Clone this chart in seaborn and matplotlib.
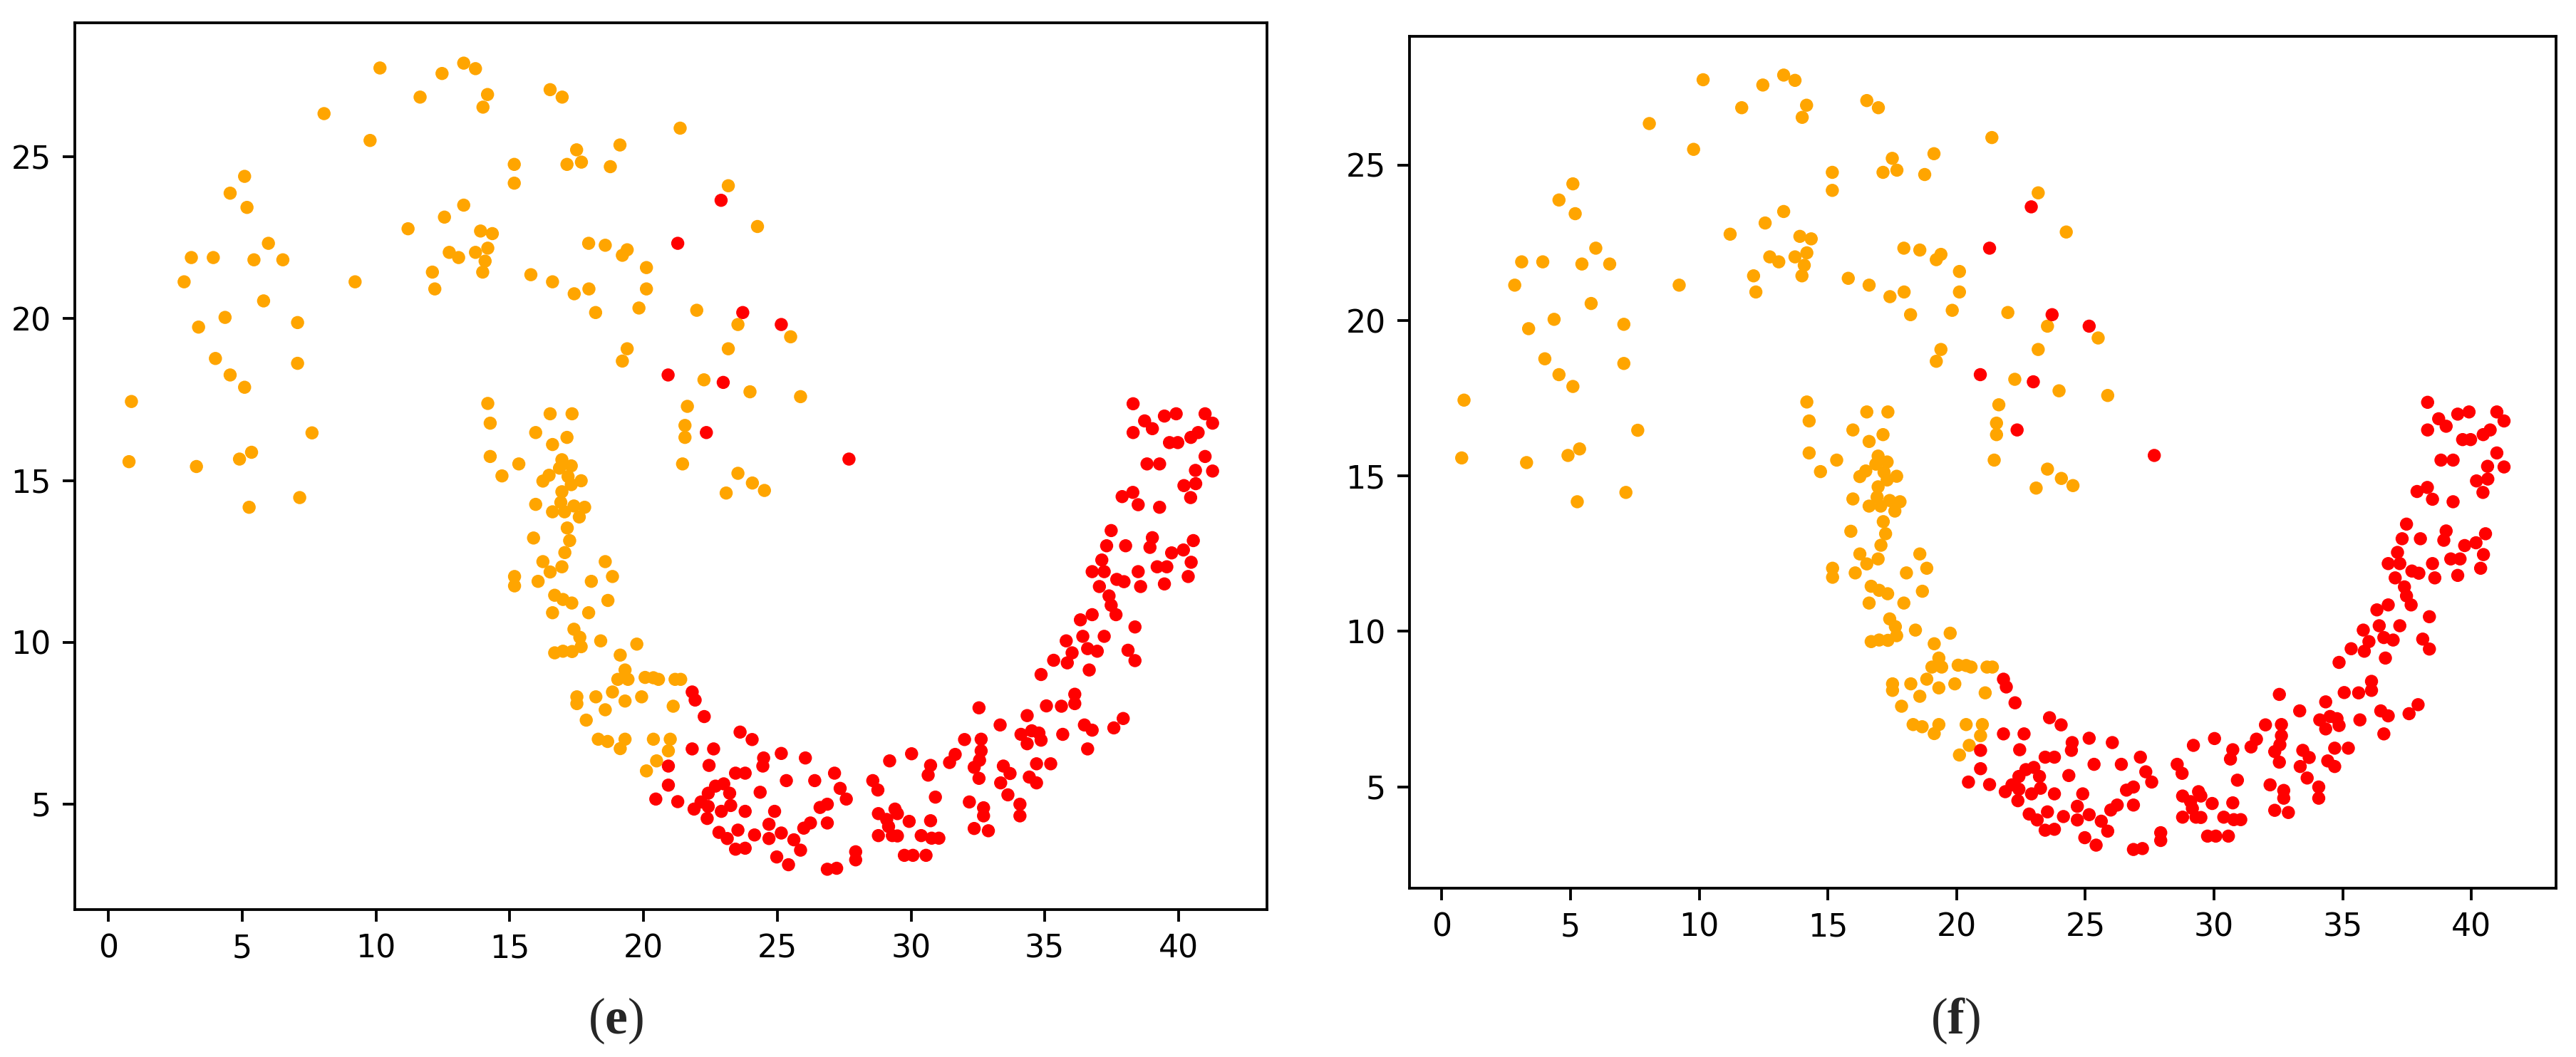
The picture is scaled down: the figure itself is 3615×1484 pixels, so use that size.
import matplotlib
matplotlib.use("Agg")
import matplotlib.pyplot as plt
import seaborn as sns
import pandas as pd

# points (same cloud in both panels)
orange_x = [
    10.15, 12.47, 13.28, 11.65, 8.06, 9.78, 5.09, 4.55, 5.18, 5.98, 3.10, 3.92, 5.44, 6.52,
    2.83, 5.80, 4.36, 3.37, 7.07, 4.00, 7.07, 4.55, 5.09, 0.86, 7.61, 0.77, 3.29, 4.90,
    5.35, 7.15, 5.26, 11.20, 12.56, 13.28, 12.74, 13.09, 12.11, 12.20, 9.22,
    13.72, 14.17, 14.00, 16.51, 16.96, 21.37, 19.12, 17.50, 17.68, 17.14, 18.76, 15.17,
    15.17, 23.17, 24.26, 13.91, 14.35, 13.72, 14.18, 14.08, 13.99, 17.95, 18.57, 19.39,
    19.21, 20.11, 15.79, 16.60, 17.41, 17.96, 20.11, 18.21, 19.83, 21.99, 23.53, 25.50,
    23.17, 19.39, 19.21, 22.26, 23.98, 25.87, 21.64, 21.55, 21.55, 21.46, 23.53, 24.07,
    24.52, 23.09, 14.18, 14.27, 14.27, 15.34, 14.71, 16.51, 17.33, 15.97, 17.14, 16.60,
    16.95, 17.30, 16.86, 16.47, 16.24, 17.18, 17.67, 17.30, 16.95, 15.97, 16.91, 16.60,
    17.05, 17.40, 17.80, 17.60, 17.15, 17.24, 15.89, 17.06, 16.24, 16.51, 16.95, 18.57,
    18.84, 15.18, 15.18, 16.06, 18.05, 16.68, 16.99, 17.32, 16.60, 17.95, 18.67, 17.40,
    17.62, 17.67, 16.68, 16.99, 17.33, 18.40, 19.75, 19.13, 19.31, 19.04, 19.42, 20.06,
    20.37, 20.56, 21.18, 21.39, 18.84, 17.51, 17.51, 18.22, 19.31, 19.93, 21.11, 18.57,
    17.86, 18.31, 18.66, 19.31, 19.13, 20.37, 21.00, 20.93, 20.49, 20.11,
]
orange_y = [
    27.75, 27.58, 27.90, 26.85, 26.34, 25.51, 24.40, 23.88, 23.44, 22.33, 21.89, 21.89, 21.82, 21.82,
    21.14, 20.55, 20.04, 19.74, 19.88, 18.77, 18.62, 18.26, 17.88, 17.44, 16.47, 15.58, 15.43, 15.66,
    15.87, 14.47, 14.17, 22.78, 23.14, 23.51, 22.05, 21.89, 21.44, 20.92, 21.14,
    27.73, 26.93, 26.54, 27.08, 26.85, 25.89, 25.37, 25.22, 24.84, 24.77, 24.70, 24.77,
    24.19, 24.11, 22.85, 22.71, 22.63, 22.05, 22.18, 21.78, 21.44, 22.33, 22.27, 22.13,
    21.96, 21.58, 21.36, 21.14, 20.77, 20.92, 20.92, 20.19, 20.33, 20.26, 19.82, 19.44,
    19.07, 19.07, 18.69, 18.11, 17.74, 17.59, 17.29, 16.70, 16.33, 15.51, 15.22, 14.92,
    14.69, 14.61, 17.38, 16.77, 15.74, 15.51, 15.14, 17.06, 17.06, 16.48, 16.33, 16.11,
    15.64, 15.45, 15.38, 15.16, 14.98, 15.12, 14.99, 14.87, 14.65, 14.26, 14.32, 14.03,
    14.03, 14.21, 14.17, 13.87, 13.53, 13.14, 13.22, 12.77, 12.49, 12.17, 12.33, 12.49,
    12.03, 12.03, 11.74, 11.88, 11.88, 11.45, 11.32, 11.21, 10.91, 10.91, 11.29, 10.40,
    10.15, 9.86, 9.67, 9.72, 9.71, 10.04, 9.94, 9.60, 9.14, 8.85, 8.85, 8.91,
    8.90, 8.85, 8.85, 8.85, 8.46, 8.31, 8.10, 8.31, 8.18, 8.31, 8.02, 7.91,
    7.59, 7.00, 6.93, 7.00, 6.71, 7.00, 7.00, 6.64, 6.33, 6.02,
]

red_x = [
    22.90, 21.28, 23.71, 25.15, 20.92, 22.98, 22.35, 27.68,
    35.33, 34.86, 32.54, 35.06, 35.62, 21.82, 21.93,
    22.27, 23.61, 24.06, 21.82, 22.62, 20.93, 22.45, 23.44, 23.80, 24.49, 24.46, 24.36,
    20.93, 20.46, 21.28, 21.89, 22.15, 22.42, 22.69, 23.00, 23.22, 23.26, 22.91, 22.42,
    22.38, 23.80, 22.82, 23.13, 23.53, 23.44, 23.80, 24.15,
    25.15, 26.05, 25.34, 26.40, 27.14, 27.35, 27.58, 26.60, 26.87, 24.90, 24.69, 24.69,
    25.15, 25.62, 25.87, 25.99, 26.24, 26.87, 24.98, 25.42, 26.87, 27.22, 27.93, 27.93,
    28.57, 28.76, 29.20, 30.02, 30.73, 30.64, 30.91, 28.78, 29.09, 29.40, 29.49, 29.16,
    29.93, 30.73, 28.78, 29.30, 29.49, 30.38, 30.77, 31.04, 29.75, 30.07, 30.56, 31.65,
    31.44, 32.00, 32.62, 32.62, 32.56, 32.36, 32.54, 32.18, 32.71, 32.71, 32.36, 32.89,
    33.33, 34.34, 34.11, 34.51, 34.78, 34.86, 34.34, 34.69, 35.22, 33.45, 33.70, 33.35,
    34.42, 34.69, 33.62, 34.07, 34.07, 35.67,
    36.48, 36.77, 37.58, 37.93, 36.60,
    38.30, 38.73, 39.02, 38.30, 39.47, 39.91, 40.99, 41.27, 40.73, 40.46, 39.66, 39.97,
    40.99, 38.82, 39.29, 40.63, 41.27, 40.20, 40.64, 40.45, 37.89, 38.29, 38.49, 39.29,
    37.48, 37.31, 38.02, 39.02, 38.93, 40.55, 39.74, 40.18, 40.47, 40.36, 37.13, 36.77,
    37.22, 38.49, 39.20, 39.56, 37.69, 37.96, 37.04, 38.58, 39.47, 37.40, 37.48, 37.66,
    36.77, 36.33, 38.37, 36.42, 37.22, 35.80, 36.60, 36.96, 36.02, 35.84, 38.11, 38.37,
    36.66, 36.12, 36.12,
]
red_y = [
    23.66, 22.33, 20.19, 19.82, 18.26, 18.03, 16.48, 15.66,
    9.44, 9.00, 7.97, 8.03, 8.02, 8.46, 8.21,
    7.70, 7.22, 6.99, 6.70, 6.70, 6.17, 6.19, 5.95, 5.95, 6.42, 6.17, 5.36,
    5.58, 5.15, 5.07, 4.84, 5.06, 5.33, 5.55, 5.62, 5.33, 4.95, 4.77, 4.92,
    4.55, 4.77, 4.12, 3.93, 4.19, 3.60, 3.63, 4.04,
    6.56, 6.42, 5.72, 5.72, 5.95, 5.48, 5.15, 4.89, 4.99, 4.77, 4.37, 3.93,
    4.10, 3.89, 3.57, 4.25, 4.41, 4.41, 3.36, 3.12, 2.98, 3.01, 3.52, 3.27,
    5.72, 5.43, 6.33, 6.55, 6.19, 5.89, 5.21, 4.70, 4.52, 4.84, 4.70, 4.30,
    4.46, 4.48, 4.02, 4.02, 4.01, 4.02, 3.94, 3.94, 3.41, 3.41, 3.41, 6.53,
    6.28, 6.99, 7.00, 6.64, 6.35, 6.13, 5.79, 5.06, 4.88, 4.63, 4.24, 4.17,
    7.44, 7.73, 7.15, 7.26, 7.19, 6.97, 6.86, 6.24, 6.24, 6.17, 5.94, 5.65,
    5.83, 5.65, 5.28, 4.99, 4.63, 7.15,
    7.44, 7.28, 7.35, 7.64, 6.70,
    17.37, 16.84, 16.60, 16.48, 16.99, 17.06, 17.06, 16.77, 16.48, 16.33, 16.17, 16.17,
    15.74, 15.51, 15.51, 15.31, 15.29, 14.84, 14.90, 14.47, 14.50, 14.63, 14.25, 14.17,
    13.45, 12.98, 12.98, 13.23, 12.93, 13.14, 12.76, 12.85, 12.47, 12.03, 12.54, 12.18,
    12.18, 12.18, 12.33, 12.33, 11.94, 11.87, 11.72, 11.72, 11.80, 11.43, 11.14, 10.85,
    10.85, 10.69, 10.47, 10.18, 10.18, 10.04, 9.80, 9.72, 9.67, 9.36, 9.75, 9.43,
    9.14, 8.39, 8.10,
]

panel_labels = ["e", "f"]

df = pd.concat([
    pd.DataFrame({"x": orange_x, "y": orange_y, "cluster": "orange"}),
    pd.DataFrame({"x": red_x, "y": red_y, "cluster": "red"}),
], ignore_index=True)

sns.set_style("ticks")
plt.rcParams["font.family"] = ["DejaVu Sans"]
plt.rcParams["mathtext.fontset"] = "custom"
plt.rcParams["mathtext.rm"] = "Liberation Serif"
plt.rcParams["mathtext.bf"] = "Liberation Serif:bold"

dpi = 343
fig = plt.figure(figsize=(3615 / dpi, 1484 / dpi), dpi=dpi)
ax_e = fig.add_axes([0.02905, 0.1395, 0.4627, 0.8389])
ax_f = fig.add_axes([0.5472, 0.1597, 0.4451, 0.8059])

for ax in (ax_e, ax_f):
    sns.scatterplot(data=df, x="x", y="y", hue="cluster",
                    palette={"orange": "orange", "red": "red"},
                    s=15, linewidth=0, legend=False, ax=ax)
    ax.set_xlabel("")
    ax.set_ylabel("")
    ax.set_xticks(range(0, 41, 5))
    ax.set_yticks(range(5, 26, 5))
    ax.tick_params(direction="out", length=3.5, width=0.8, labelsize=9.3,
                   color="black", labelcolor="black", pad=3.5)
    for sp in ax.spines.values():
        sp.set_visible(True)
        sp.set_color("black")
        sp.set_linewidth(0.8)

# panel captions
for xpos, lab in zip([0.239, 0.759], panel_labels):
    fig.text(xpos, 0.034, "(" + r"$\mathbf{" + lab + "}$" + ")",
             family="Liberation Serif", fontsize=15, ha="center", va="center")

fig.savefig("out.png", dpi=dpi)
plt.close(fig)
